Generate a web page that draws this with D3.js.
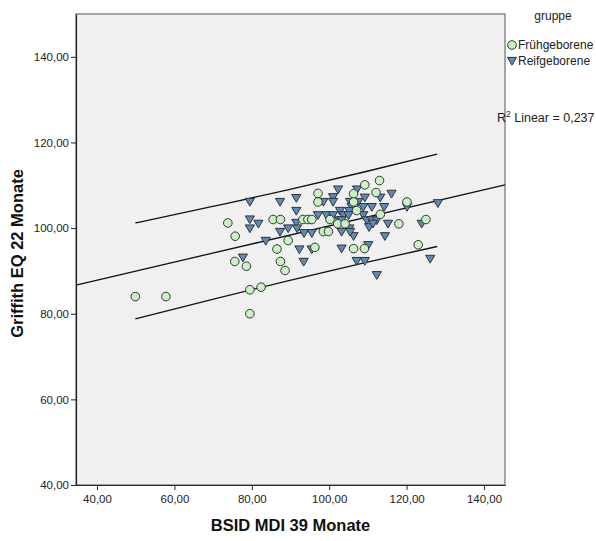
<!DOCTYPE html>
<html><head><meta charset="utf-8">
<script src="https://cdn.jsdelivr.net/npm/d3@7"></script>
<style>
body{margin:0;background:#fff;}
svg{display:block;font-family:"Liberation Sans",Arial,sans-serif;}
</style></head>
<body><svg id="c" width="596" height="541"></svg>
<script>
// ---- data ----
const groups = ["Frühgeborene", "Reifgeborene"];
const fruehX = [49.9,57.8,73.8,75.7,85.5,87.4,89.4,86.5,75.6,78.6,87.4,88.6,79.5,82.4,79.5,97.1,97.1,93.2,94.5,95.5,96.3,109.2,113.0,106.3,106.3,112.1,120.1,100.2,102.2,104.1,107.1,113.2,98.5,99.8,106.3,109.1,118.0,123.0,125.0];
const fruehY = [84,84,101.2,98.1,102,102,97.1,95.1,92.2,91.1,92.2,90.1,85.6,86.2,80,108.1,106.1,102,102,102,95.5,110.1,111.1,108,106.1,108.3,106.1,102,101,101,104.1,103.2,99.2,99.2,95.2,95.2,101,96.1,102];
const reifX = [79.5,87.3,91.5,91.5,79.5,81.7,79.5,91.5,89.4,87.3,91.7,83.6,77.7,92.3,95.5,93.5,95.5,93.4,97.1,102.3,107.2,116.1,101.0,101.0,98.5,105.4,107.5,109.2,105.8,108.8,111.0,113.2,114.2,99.3,101.0,102.8,103.7,105.2,102.6,103.2,105.0,108.8,109.7,111.0,112.3,110.3,111.3,103.2,105.2,106.3,105.4,115.2,114.4,128.1,120.1,123.9,126.1,103.2,110.1,107.1,109.2,112.3];
const reifY = [106.1,106.1,107,104,102,101,99.9,101.2,99.9,99.1,99.9,97,93.1,95,95,98.8,98.8,92.1,103,109,109,108,107.2,106.1,106.1,106.1,106.1,107.1,104.9,104.9,104.9,107.1,104.9,103,103,104,103,104,101.8,101.8,103,103,101.8,101.8,101.8,100.2,101,99.1,99.9,98.1,99.1,101,98.1,105.8,104.9,101,92.8,95.2,96,92.3,92.3,89];
const xTicks = [40,60,80,100,120,140];
const yTicks = [40,60,80,100,120,140];
const xDomain = [34.57, 145.43];
const yDomain = [40, 150];
const fitX = [34.57, 145.43];
const fitY = [86.7, 110.1];
const bandX = [49.9, 69.6, 89.3, 109.0, 127.9];
const bandUpper = [101.2, 105.0, 108.9, 113.1, 117.3];
const bandLower = [78.8, 83.3, 87.7, 91.9, 95.7];
const r2Text = "0,237";

// ---- layout ----
const L = 76, R = 505, T = 14, B = 485;
const svg = d3.select("#c");
const x = d3.scaleLinear().domain(xDomain).range([L, R]);
const y = d3.scaleLinear().domain(yDomain).range([B, T]);
const fmt = d => d3.format(".2f")(d).replace(".", ",");

svg.append("rect").attr("x", L).attr("y", T).attr("width", R - L).attr("height", B - T)
  .attr("fill", "#f0f0f0").attr("stroke", "#8a8a8a").attr("stroke-width", 1.5);

// axes
const xAxis = svg.append("g").attr("transform", `translate(0,${B})`)
  .call(d3.axisBottom(x).tickValues(xTicks).tickFormat(fmt).tickSize(5).tickSizeOuter(0));
const yAxis = svg.append("g").attr("transform", `translate(${L},0)`)
  .call(d3.axisLeft(y).tickValues(yTicks).tickFormat(fmt).tickSize(5).tickSizeOuter(0));
[xAxis, yAxis].forEach(g => {
  g.select(".domain").attr("stroke", "#222").attr("stroke-width", 1.2);
  g.selectAll(".tick line").attr("stroke", "#222");
  g.selectAll(".tick text").attr("fill", "#222").style("font-size", "11.5px")
    .style("font-family", "'Liberation Sans',Arial,sans-serif");
});
xAxis.selectAll(".tick text").attr("dy", "0.9em");
yAxis.selectAll(".tick text").attr("x", -7);

// titles
svg.append("text").attr("x", (L + R) / 2).attr("y", 531).attr("text-anchor", "middle")
  .style("font-size", "16.5px").style("font-weight", "bold").attr("fill", "#111").text("BSID MDI 39 Monate");
svg.append("text").attr("transform", `translate(23,${(T + B) / 2 + 4}) rotate(-90)`).attr("text-anchor", "middle")
  .style("font-size", "16.5px").style("font-weight", "bold").attr("fill", "#111").text("Griffith EQ 22 Monate");

// fit and prediction band
const line = d3.line().x(d => x(d[0])).y(d => y(d[1]));
const cline = d3.line().x(d => x(d[0])).y(d => y(d[1])).curve(d3.curveMonotoneX);
svg.append("path").attr("d", line(d3.zip(fitX, fitY))).attr("fill", "none").attr("stroke", "#111").attr("stroke-width", 1.3);
svg.append("path").attr("d", cline(d3.zip(bandX, bandUpper))).attr("fill", "none").attr("stroke", "#111").attr("stroke-width", 1.3);
svg.append("path").attr("d", cline(d3.zip(bandX, bandLower))).attr("fill", "none").attr("stroke", "#111").attr("stroke-width", 1.3);

// points
const tri = "M-4.6,-3.6L4.6,-3.6L0,4.2Z";
const pts = svg.append("g");
pts.selectAll("path.r").data(d3.zip(reifX, reifY)).join("path").attr("class", "r")
  .attr("d", tri).attr("transform", d => `translate(${x(d[0])},${y(d[1])})`)
  .attr("fill", "#5b8bbd").attr("stroke", "#333").attr("stroke-width", 1);
pts.selectAll("circle").data(d3.zip(fruehX, fruehY)).join("circle")
  .attr("cx", d => x(d[0])).attr("cy", d => y(d[1])).attr("r", 4.3)
  .attr("fill", "#c9f2c2").attr("stroke", "#333").attr("stroke-width", 1);

// legend
svg.append("text").attr("x", 553).attr("y", 20).attr("text-anchor", "middle")
  .style("font-size", "12px").attr("fill", "#222").text("gruppe");
const lg = svg.append("g");
lg.append("circle").attr("cx", 512).attr("cy", 45).attr("r", 4.3).attr("fill", "#c9f2c2").attr("stroke", "#333");
lg.append("text").attr("x", 518).attr("y", 49).style("font-size", "12px").attr("fill", "#222").text(groups[0]);
lg.append("path").attr("d", tri).attr("transform", "translate(512,61)").attr("fill", "#5b8bbd").attr("stroke", "#333");
lg.append("text").attr("x", 518).attr("y", 65).style("font-size", "12px").attr("fill", "#222").text(groups[1]);

const r2 = svg.append("text").attr("x", 497).attr("y", 122).style("font-size", "12.5px").attr("fill", "#222");
r2.append("tspan").text("R");
r2.append("tspan").attr("dy", -5).style("font-size", "8.5px").text("2");
r2.append("tspan").attr("dy", 5).text(" Linear = " + r2Text);
</script></body></html>
